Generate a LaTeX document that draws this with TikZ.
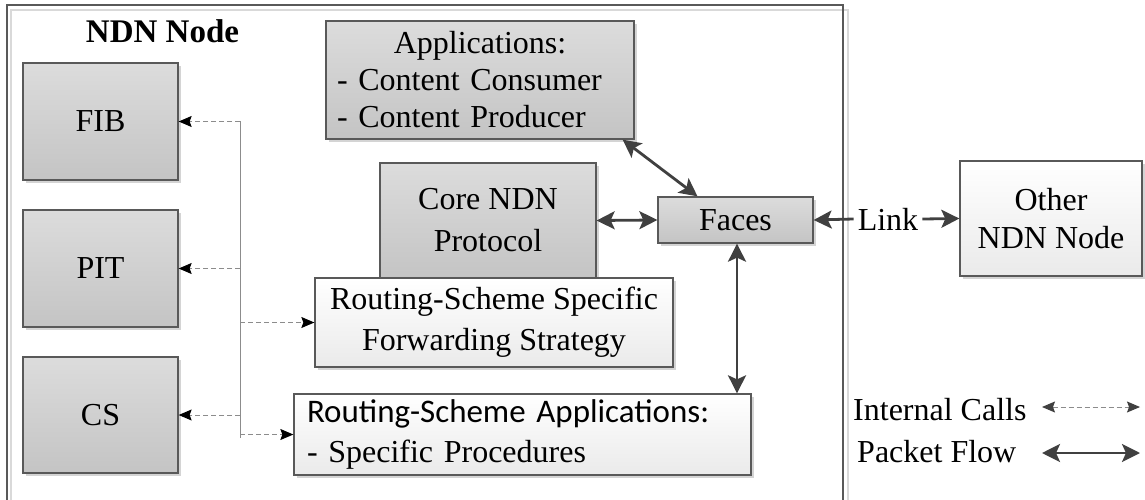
\documentclass[tikz,border=0pt]{standalone}
\usepackage{fontspec}
\setmainfont{Liberation Serif}
\newfontfamily\carlito[Scale=1.03]{Carlito}
\usetikzlibrary{arrows.meta,shadows}
\definecolor{ln}{RGB}{89,89,89}
\definecolor{fl}{RGB}{64,64,64}
\definecolor{gtop}{RGB}{220,220,220}
\definecolor{gbot}{RGB}{196,196,196}
\definecolor{wbot}{RGB}{234,234,234}
\definecolor{sh}{RGB}{212,212,212}
\tikzset{
  box/.style={draw=ln, line width=1.3pt, inner sep=0pt, align=center,
    drop shadow={shadow xshift=3pt, shadow yshift=-3pt, fill=sh, opacity=1}},
  graybox/.style={box, top color=gtop, bottom color=gbot},
  whitebox/.style={box, top color=white, bottom color=wbot},
  flowtip/.tip={Stealth[length=18pt,width=18pt,inset=4pt]},
  calltip/.tip={Stealth[length=13pt,width=11pt,inset=2pt]},
  flow/.style={draw=fl, line width=2.8pt, flowtip-flowtip},
  calls/.style={draw=black!45, line width=1pt, dash pattern=on 5pt off 3pt,
    -{calltip[color=black]}},
}

\begin{document}
\begin{tikzpicture}[font=\fontsize{32}{39}\selectfont]
\useasboundingbox (0pt,0pt) rectangle (1145pt,-500pt);
\draw [black!15, line width=1.3pt] (11pt,-10pt) rectangle (848pt,-530pt);
\draw [ln, line width=1.3pt] (7pt,-5pt) rectangle (843pt,-525pt);
\node (title) [font=\fontsize{33}{39}\selectfont\bfseries] at (162.5pt,-31pt) {NDN Node};
\node (fib) [graybox, minimum width=155pt, minimum height=117pt] at (100.5pt,-121.5pt) {FIB};
\node (pit) [graybox, minimum width=155pt, minimum height=117pt] at (100.5pt,-268.5pt) {PIT};
\node (cs) [graybox, minimum width=155pt, minimum height=116pt] at (100.5pt,-415pt) {CS};
\node (apps) [graybox, align=left, text width=286pt, inner xsep=11pt, minimum height=118pt,
  font=\fontsize{32}{37}\selectfont] at (480pt,-80pt)
  {\makebox[286pt]{Applications:}\\- Content Consumer\\- Content Producer};
\node (core) [graybox, minimum width=216pt, minimum height=115pt, font=\fontsize{32}{42}\selectfont] at (488pt,-220.5pt) {Core NDN\\Protocol};
\node (rss) [whitebox, minimum width=358pt, minimum height=89pt, font=\fontsize{32}{41}\selectfont] at (494pt,-322.5pt) {Routing-Scheme Specific\\Forwarding Strategy};
\node (faces) [graybox, minimum width=155pt, minimum height=46pt] at (735.5pt,-220pt) {Faces};
\node (rsa) [whitebox, align=left, text width=431pt, inner xsep=13pt, minimum height=81pt,
  font=\fontsize{32}{40}\selectfont] at (522.5pt,-434.5pt)
  {{\carlito Routing-Scheme Applications:}\\- Specific Procedures};
\node (other) [whitebox, minimum width=182pt, minimum height=115pt, font=\fontsize{32}{38}\selectfont] at (1051pt,-218.5pt) {Other\\NDN Node};
\node (link) [inner sep=4pt] at (888pt,-219pt) {Link};
\coordinate (bt) at (240pt,-121.5pt);
\coordinate (bb) at (240pt,-438pt);
\draw [black!45, line width=1pt] (bt) -- (bb);
\foreach \n in {fib,pit,cs} \draw [calls] (bt |- \n.east) -- (\n.east);
\foreach \n in {rss,rsa} \draw [calls] (bt |- \n.west) -- (\n.west);
\draw [flow] ([xshift=-12pt]apps.south east) -- ([xshift=-38pt]faces.north);
\draw [flow] (core.east) -- (faces.west);
\draw [flow] ([xshift=1.5pt]faces.south) -- ([xshift=1.5pt]faces.south |- rsa.north);
\draw [flow, flowtip-] (faces.east) -- (link.west);
\draw [flow, -flowtip] (link.east) -- (other.west);
\node (lcalls) [anchor=west, inner sep=0pt] at (853pt,-410pt) {Internal Calls};
\node (lflow) [anchor=west, inner sep=0pt] at (857pt,-452pt) {Packet Flow};
\coordinate (c1) at (1042pt,-407pt);
\coordinate (c2) at (1140pt,-407pt);
\coordinate (f1) at (1042pt,-453pt);
\coordinate (f2) at (1140pt,-453pt);
\draw [calls, {calltip[color=fl]}-{calltip[color=fl]}] (c1) -- (c2);
\draw [flow] (f1) -- (f2);
\end{tikzpicture}
\end{document}
